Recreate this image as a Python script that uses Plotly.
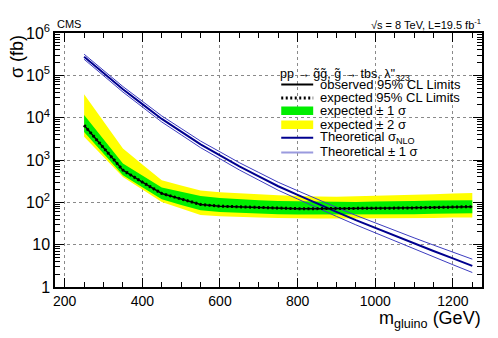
import plotly.graph_objects as go

# ---------------- data ----------------
mass = [250, 300, 350, 400, 450, 500, 550, 600, 650, 700, 750,
        800, 850, 900, 950, 1000, 1050, 1100, 1150, 1200, 1250]

expected = [6600, 1950, 575, 300, 162, 120, 89, 81, 78, 74, 72,
            71, 71, 71, 71, 72, 73, 74, 76, 77, 79]
observed = [6600, 1950, 575, 300, 162, 120, 89, 81, 78, 74, 72,
            71, 71, 71, 71, 72, 73, 74, 76, 77, 79]

exp_2s_up = [35500, 8130, 1860, 785, 331, 251, 190.5, 174, 162, 155, 148,
             141, 138, 135, 138, 141, 145, 151, 155, 162, 166]
exp_1s_up = [11500, 3090, 832, 432, 224, 178, 141, 126, 117.5, 112, 107,
             105, 102, 102, 102, 105, 105, 107, 110, 112, 112]
exp_1s_dn = [4570, 1410, 437, 226, 117.5, 87, 64.6, 58.9, 56.2, 53.7, 52.5,
             51.3, 51.3, 51.3, 51.3, 51.3, 52.5, 52.5, 53.7, 55, 55]
exp_2s_dn = [3550, 1190, 398, 202, 102, 71.6, 50.1, 46.8, 44.7, 43.7, 42.7,
             41.7, 41.7, 41.7, 41.7, 41.7, 41.7, 42.7, 42.7, 43.7, 43.7]

theory = [275000, 113500, 46800, 20900, 9330, 4680, 2340, 1290, 708, 412, 240,
          150, 93, 59.6, 38, 24.8, 16.2, 10.7, 7.1, 4.73, 3.16]
theory_up = [315700, 130900, 54300, 24430, 11010, 5560, 2800, 1558, 863, 507, 298,
             188, 117.6, 76.2, 49.2, 32.5, 21.5, 14.5, 9.78, 6.65, 4.54]
theory_dn = [239500, 98400, 40300, 17880, 7910, 3940, 1955, 1068, 581, 335, 193,
             119.7, 73.5, 46.6, 29.4, 18.9, 12.2, 7.91, 5.16, 3.36, 2.20]

x_ticks = [200, 400, 600, 800, 1000, 1200]
y_ticks = [1, 10, 100, 1000, 10000, 100000, 1000000]
y_ticktext = ["1", "10", "10<sup>2</sup>", "10<sup>3</sup>", "10<sup>4</sup>",
              "10<sup>5</sup>", "10<sup>6</sup>"]

# ---------------- colours ----------------
YELLOW = "#ffff00"
GREEN = "#00ee00"
NAVY = "#00008f"
BANDBLUE = "#3c3cc0"
LEGBLUE = "#9a9ade"
FONT = "Liberation Sans"

fig = go.Figure()

# yellow band
fig.add_trace(go.Scatter(x=mass, y=exp_2s_dn, mode="lines", line=dict(width=0),
                         hoverinfo="skip", showlegend=False))
fig.add_trace(go.Scatter(x=mass, y=exp_2s_up, mode="lines", line=dict(width=0),
                         fill="tonexty", fillcolor=YELLOW, showlegend=False))
# green band
fig.add_trace(go.Scatter(x=mass, y=exp_1s_dn, mode="lines", line=dict(width=0),
                         hoverinfo="skip", showlegend=False))
fig.add_trace(go.Scatter(x=mass, y=exp_1s_up, mode="lines", line=dict(width=0),
                         fill="tonexty", fillcolor=GREEN, showlegend=False))
# theory band lines and central
fig.add_trace(go.Scatter(x=mass, y=theory_up, mode="lines",
                         line=dict(color=BANDBLUE, width=1), showlegend=False))
fig.add_trace(go.Scatter(x=mass, y=theory_dn, mode="lines",
                         line=dict(color=BANDBLUE, width=1), showlegend=False))
fig.add_trace(go.Scatter(x=mass, y=theory, mode="lines",
                         line=dict(color=NAVY, width=2), showlegend=False))
# observed and expected limits
fig.add_trace(go.Scatter(x=mass, y=observed, mode="lines",
                         line=dict(color="black", width=1.5), showlegend=False))
fig.add_trace(go.Scatter(x=mass, y=expected, mode="lines",
                         line=dict(color="black", width=3, dash="2px,2.5px"),
                         showlegend=False))

# ---------------- layout ----------------
L, R, T, B = 54.5, 482, 33, 286.7
W, H = 498, 338


def px(xp):
    return (xp - L) / (R - L)


def py(yp):
    return (B - yp) / (B - T)


axis_common = dict(showline=True, linecolor="black", linewidth=1.5, mirror="allticks",
                   ticks="inside", tickcolor="black", showgrid=True,
                   gridcolor="#8a8a8a", griddash="dot", gridwidth=1, zeroline=False)

fig.update_layout(
    width=W, height=H,
    margin=dict(l=L, r=W - R, t=T, b=H - B),
    paper_bgcolor="white", plot_bgcolor="white",
    font=dict(family=FONT, color="black"),
    xaxis=dict(range=[175, 1275], tickvals=x_ticks, ticklen=9, tickwidth=1,
               tickfont=dict(size=14, family=FONT),
               minor=dict(dtick=50, tick0=0, ticklen=5, ticks="inside", tickcolor="black",
                          showgrid=False),
               **axis_common),
    yaxis=dict(type="log", range=[0, 6], tickvals=y_ticks, ticktext=y_ticktext,
               ticklen=9, tickwidth=1, tickfont=dict(size=16, family=FONT),
               minor=dict(ticklen=5, ticks="inside", tickcolor="black", showgrid=False,
                          dtick="D1"),
               **axis_common),
)

annotations = [
    dict(text="CMS", x=px(54), y=py(24), xanchor="left", yanchor="middle",
         font=dict(size=11)),
    dict(text="\u221As = 8 TeV, L=19.5 fb<sup>-1</sup>", x=px(483), y=py(24),
         xanchor="right", yanchor="middle", font=dict(size=11)),
    dict(text="\u03C3 (fb)", x=px(16), y=py(33), xanchor="center", yanchor="top",
         textangle=-90, font=dict(size=18)),
    dict(text="m<sub>gluino</sub> (GeV)", x=px(483), y=py(319), xanchor="right",
         yanchor="middle", font=dict(size=18)),
    dict(text="pp \u2192 g\u0303g\u0303, g\u0303 \u2192 tbs, \u03BB''<sub>323</sub>",
         x=px(278), y=py(74.5), xanchor="left", yanchor="middle", font=dict(size=12.5)),
]

leg_rows = [
    ("observed 95% CL Limits", 84.5),
    ("expected 95% CL Limits", 97.7),
    ("expected \u00B1 1 \u03C3", 110.5),
    ("expected \u00B1 2 \u03C3", 124.5),
    ("Theoretical \u03C3<sub>NLO</sub>", 137.0),
    ("Theoretical \u00B1 1 \u03C3", 151.5),
]
for text, yc in leg_rows:
    annotations.append(dict(text=text, x=px(318), y=py(yc), xanchor="left",
                            yanchor="middle", font=dict(size=13)))

shapes = []
x0, x1 = px(281), px(313)
shapes.append(dict(type="line", xref="paper", yref="paper", x0=x0, x1=x1,
                   y0=py(84.5), y1=py(84.5), line=dict(color="black", width=2)))
shapes.append(dict(type="line", xref="paper", yref="paper", x0=x0, x1=x1,
                   y0=py(98), y1=py(98), line=dict(color="black", width=3, dash="2px,2.5px")))
shapes.append(dict(type="rect", xref="paper", yref="paper", x0=x0, x1=x1,
                   y0=py(115), y1=py(106.5), fillcolor=GREEN, line=dict(width=0)))
shapes.append(dict(type="rect", xref="paper", yref="paper", x0=x0, x1=x1,
                   y0=py(129), y1=py(120.5), fillcolor=YELLOW, line=dict(width=0)))
shapes.append(dict(type="line", xref="paper", yref="paper", x0=x0, x1=x1,
                   y0=py(137.7), y1=py(137.7), line=dict(color=NAVY, width=2)))
shapes.append(dict(type="line", xref="paper", yref="paper", x0=x0, x1=x1,
                   y0=py(152.3), y1=py(152.3), line=dict(color=LEGBLUE, width=2)))

for a in annotations:
    a.update(xref="paper", yref="paper", showarrow=False)
fig.update_layout(annotations=annotations, shapes=shapes)

fig.write_html("out.html",
               config={"displayModeBar": False},
               post_script="document.body.style.margin='0px';"
                           "document.body.style.overflow='hidden';")
